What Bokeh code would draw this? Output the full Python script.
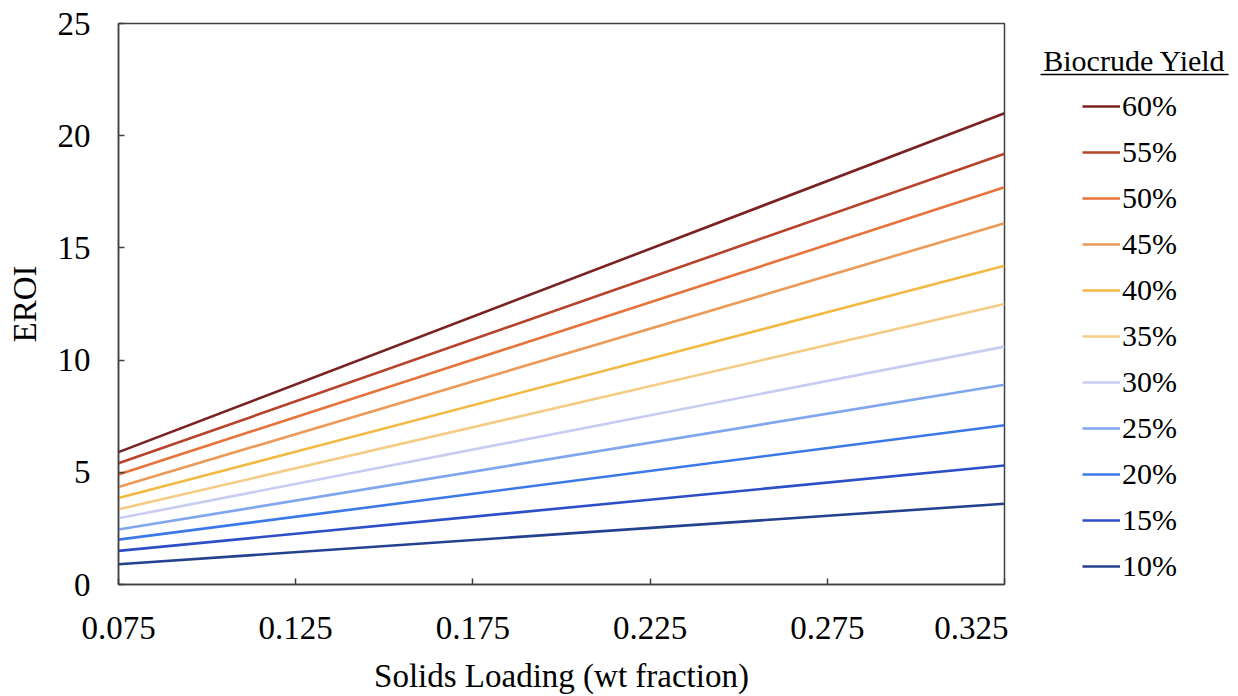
from bokeh.plotting import figure
from bokeh.models import Legend, LegendItem, Range1d, FixedTicker
from bokeh.layouts import row
from bokeh.core.properties import value
from bokeh.embed import file_html
from bokeh.resources import INLINE

# Data
solids_loading = [0.075, 0.325]
yields = ["60%", "55%", "50%", "45%", "40%", "35%", "30%", "25%", "20%", "15%", "10%"]
eroi_start = [5.9, 5.4, 4.9, 4.35, 3.85, 3.35, 2.95, 2.45, 2.0, 1.5, 0.9]
eroi_end = [21.0, 19.2, 17.7, 16.1, 14.2, 12.5, 10.6, 8.9, 7.1, 5.3, 3.6]
colors = ["#7a2222", "#b8432c", "#e8733a", "#ec9a58", "#f2b943", "#f4cc85",
          "#c8ccf2", "#7fa6ef", "#3b78e8", "#2c4fc9", "#23418f"]
x_ticks = [0.075, 0.125, 0.175, 0.225, 0.275, 0.325]
y_ticks = [0, 5, 10, 15, 20, 25]
legend_title = "Biocrude Yield"

FONT = "Liberation Serif"
H = 696
TOP = 23
FRAME_H = 561
BOTTOM = H - TOP - FRAME_H

p = figure(width=1008, height=H, output_backend="svg", toolbar_location=None,
           x_range=Range1d(0.075, 0.325), y_range=Range1d(0, 25),
           min_border_left=118, min_border_right=4, min_border_top=TOP,
           min_border_bottom=BOTTOM)
p.grid.visible = False
p.outline_line_color = "#404040"
p.outline_line_width = 1.5
p.border_fill_color = "white"

for ax in (p.xaxis[0], p.yaxis[0]):
    ax.axis_line_color = "#404040"
    ax.axis_line_width = 1.5
    ax.major_tick_line_color = "#404040"
    ax.major_tick_line_width = 1.5
    ax.major_tick_in = 6
    ax.major_tick_out = 0
    ax.minor_tick_line_color = None
    ax.major_label_text_font = FONT
    ax.major_label_text_font_size = "33px"
    ax.major_label_text_color = "black"
    ax.axis_label_text_font = FONT
    ax.axis_label_text_font_size = "33px"
    ax.axis_label_text_font_style = "normal"
    ax.axis_label_text_color = "black"

p.xaxis.ticker = FixedTicker(ticks=x_ticks)
p.yaxis.ticker = FixedTicker(ticks=y_ticks)
p.xaxis.major_label_overrides = {t: f"{t:.3f}" for t in x_ticks}
p.xaxis.axis_label = "Solids Loading (wt fraction)"
p.yaxis.axis_label = "EROI"
p.xaxis.major_label_standoff = 32
p.yaxis.major_label_standoff = 28
p.xaxis.axis_label_standoff = 16
p.yaxis.axis_label_standoff = 12

for name, y0, y1, c in zip(yields, eroi_start, eroi_end, colors):
    p.line(solids_loading, [y0, y1], line_color=c, line_width=2.6)

# Legend panel (separate narrow figure to the right, frame aligned with main plot)
W2 = 222
LEFT2 = 14
X0 = 1008 + LEFT2
q = figure(width=W2, height=H, output_backend="svg", toolbar_location=None,
           title=None, x_range=Range1d(X0, 1008 + W2), y_range=Range1d(TOP + FRAME_H, TOP),
           min_border_left=LEFT2, min_border_right=0, min_border_top=TOP,
           min_border_bottom=BOTTOM)
q.axis.visible = False
q.grid.visible = False
q.outline_line_color = None
q.border_fill_color = "white"

items = []
for name, c in zip(yields, colors):
    r = q.line([-100, -90], [-100, -90], line_color=c, line_width=2.6)
    items.append(LegendItem(label=name, renderers=[r]))

legend = Legend(items=items, location="top_left")
legend.glyph_width = 38
legend.glyph_height = 46
legend.label_standoff = 2
legend.label_text_font = FONT
legend.label_text_font_size = "30px"
legend.label_text_color = "black"
legend.label_height = 46
legend.spacing = 0
legend.padding = 0
legend.margin = 60
legend.border_line_color = None
legend.background_fill_alpha = 0
q.add_layout(legend)

q.text(x=[1134], y=[60], text=[legend_title], text_font=value(FONT), text_font_size="30px",
       text_align="center", text_baseline="middle", text_color="black")
q.segment(x0=[1040], y0=[74], x1=[1228], y1=[74], line_color="black", line_width=1.5)

layout = row(p, q, spacing=0)
open("out.html", "w").write(file_html(layout, INLINE))
